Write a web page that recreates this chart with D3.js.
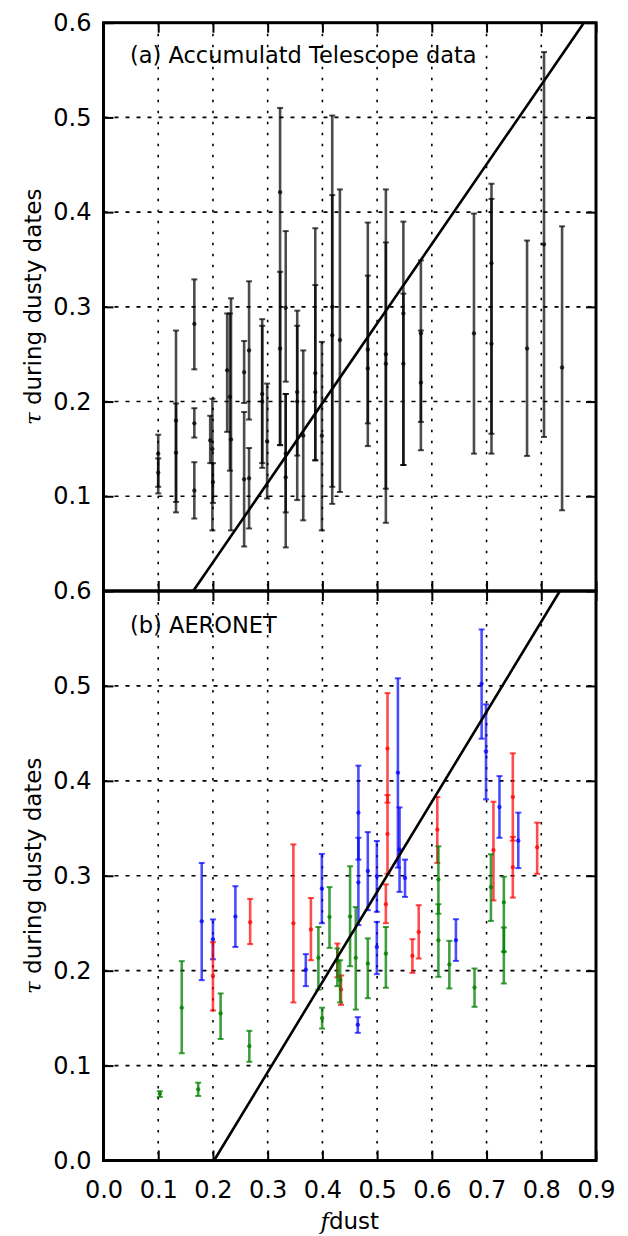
<!DOCTYPE html>
<html>
<head>
<meta charset="utf-8">
<script src="https://cdn.jsdelivr.net/npm/d3@7"></script>
<style>
  body { margin: 0; background: #fff; }
  svg { display: block; font-family: "DejaVu Sans", sans-serif; }
  .frame { fill: none; stroke: #000; stroke-width: 3; }
  .tick line { stroke: #000; stroke-width: 2; }
  .tick text { font-size: 24px; fill: #000; font-family: "DejaVu Sans", sans-serif; }
  .domain { display: none; }
  .grid-h line { stroke: #000; stroke-width: 1.6; stroke-dasharray: 4,7; }
  .grid-v line { stroke: #000; stroke-width: 1.6; stroke-dasharray: 2.5,8.5; }
</style>
</head>
<body>
<svg id="chart" width="628" height="1236"></svg>
<script>
// x ticks (fdust) and y ticks (tau)
const xTicks = [0.0, 0.1, 0.2, 0.3, 0.4, 0.5, 0.6, 0.7, 0.8, 0.9];
const yTicksA = [0.1, 0.2, 0.3, 0.4, 0.5, 0.6];
const yTicksB = [0.0, 0.1, 0.2, 0.3, 0.4, 0.5, 0.6];

// error bars as [fdust, tau, low, high]
const telescope = [
  [0.100, 0.145, 0.103, 0.165], [0.100, 0.125, 0.110, 0.140],
  [0.1325, 0.180, 0.083, 0.275], [0.1325, 0.146, 0.094, 0.198],
  [0.166, 0.282, 0.234, 0.329], [0.166, 0.177, 0.162, 0.193], [0.166, 0.106, 0.0765, 0.136],
  [0.195, 0.159, 0.135, 0.185], [0.199, 0.150, 0.064, 0.203], [0.200, 0.115, 0.093, 0.135],
  [0.226, 0.233, 0.168, 0.293], [0.231, 0.205, 0.127, 0.293], [0.233, 0.160, 0.064, 0.309],
  [0.257, 0.231, 0.1985, 0.264], [0.257, 0.118, 0.047, 0.189],
  [0.266, 0.254, 0.181, 0.327], [0.266, 0.119, 0.066, 0.151],
  [0.290, 0.208, 0.130, 0.287], [0.290, 0.200, 0.135, 0.280],
  [0.299, 0.158, 0.0976, 0.219],
  [0.3227, 0.421, 0.154, 0.510], [0.3227, 0.256, 0.154, 0.337],
  [0.333, 0.299, 0.221, 0.380], [0.333, 0.120, 0.046, 0.208], [0.333, 0.145, 0.083, 0.208],
  [0.354, 0.200, 0.096, 0.296], [0.354, 0.210, 0.143, 0.280],
  [0.365, 0.164, 0.0746, 0.254],
  [0.387, 0.210, 0.138, 0.383], [0.387, 0.230, 0.138, 0.323],
  [0.399, 0.164, 0.064, 0.263],
  [0.418, 0.300, 0.092, 0.502], [0.418, 0.270, 0.110, 0.418],
  [0.432, 0.265, 0.1045, 0.424],
  [0.483, 0.235, 0.153, 0.389], [0.483, 0.255, 0.177, 0.333],
  [0.516, 0.250, 0.072, 0.424], [0.516, 0.240, 0.108, 0.368],
  [0.548, 0.293, 0.133, 0.390], [0.548, 0.240, 0.133, 0.314],
  [0.580, 0.272, 0.1486, 0.349], [0.580, 0.220, 0.1785, 0.275],
  [0.677, 0.272, 0.145, 0.3985],
  [0.709, 0.346, 0.145, 0.430], [0.709, 0.261, 0.166, 0.414],
  [0.774, 0.256, 0.1426, 0.370],
  [0.805, 0.366, 0.1626, 0.569],
  [0.838, 0.236, 0.0852, 0.385]
];

const aeronetBlue = [
  [0.1795, 0.252, 0.190, 0.3135], [0.200, 0.233, 0.212, 0.254], [0.241, 0.257, 0.225, 0.289],
  [0.3697, 0.201, 0.1837, 0.2174], [0.399, 0.2865, 0.250, 0.323], [0.4647, 0.143, 0.1345, 0.151],
  [0.4658, 0.3665, 0.317, 0.416], [0.4658, 0.293, 0.248, 0.340], [0.483, 0.305, 0.2637, 0.346],
  [0.4995, 0.2995, 0.262, 0.3366], [0.4995, 0.225, 0.1963, 0.2514], [0.538, 0.4086, 0.3086, 0.508],
  [0.541, 0.3276, 0.283, 0.372], [0.551, 0.2977, 0.2777, 0.317], [0.644, 0.2321, 0.2103, 0.2542],
  [0.691, 0.5023, 0.4444, 0.5595], [0.699, 0.431, 0.3805, 0.4805], [0.7236, 0.3724, 0.340, 0.405],
  [0.758, 0.337, 0.308, 0.3665]
];

const aeronetRed = [
  [0.200, 0.1945, 0.158, 0.230], [0.268, 0.251, 0.228, 0.2756], [0.347, 0.250, 0.1665, 0.333],
  [0.379, 0.2434, 0.211, 0.2766], [0.4274, 0.210, 0.193, 0.2286], [0.434, 0.180, 0.164, 0.195],
  [0.519, 0.434, 0.377, 0.4924], [0.519, 0.344, 0.302, 0.385], [0.516, 0.270, 0.250, 0.291],
  [0.5645, 0.2156, 0.1977, 0.2332], [0.576, 0.2408, 0.2128, 0.269], [0.610, 0.3486, 0.3135, 0.383],
  [0.7126, 0.327, 0.274, 0.378], [0.748, 0.383, 0.337, 0.429], [0.748, 0.309, 0.277, 0.341],
  [0.7925, 0.330, 0.302, 0.356]
];

const aeronetGreen = [
  [0.103, 0.0703, 0.067, 0.073], [0.143, 0.161, 0.113, 0.210], [0.173, 0.075, 0.068, 0.082],
  [0.214, 0.155, 0.128, 0.176], [0.2665, 0.1205, 0.104, 0.1366], [0.3927, 0.2135, 0.180, 0.246],
  [0.3995, 0.150, 0.139, 0.161], [0.413, 0.2566, 0.224, 0.288], [0.4274, 0.211, 0.1837, 0.2234],
  [0.4324, 0.190, 0.1665, 0.211], [0.4506, 0.257, 0.2047, 0.310], [0.461, 0.2135, 0.159, 0.267],
  [0.483, 0.2075, 0.171, 0.234], [0.516, 0.218, 0.182, 0.246], [0.612, 0.296, 0.260, 0.331],
  [0.612, 0.232, 0.1935, 0.270], [0.632, 0.2065, 0.1813, 0.2314], [0.678, 0.1823, 0.1619, 0.2023],
  [0.708, 0.288, 0.2524, 0.3226], [0.7316, 0.272, 0.220, 0.299], [0.7316, 0.220, 0.1865, 0.2455]
];

// straight reference lines, end points
const lineA = [[0.164, 0.0], [0.878, 0.6]];
const lineB = [[0.202, 0.0], [0.834, 0.6]];

const svg = d3.select("#chart");
const left = 103.5, right = 596;

const x = d3.scaleLinear().domain([0, 0.9]).range([left, right]);

function panel(top, bottom, yTicks, showX) {
  const y = d3.scaleLinear().domain([0, 0.6]).range([bottom, top]);
  const g = svg.append("g");

  // gridlines
  g.append("g").attr("class", "grid-v")
    .selectAll("line").data(xTicks.slice(1, -1)).join("line")
    .attr("x1", d => x(d)).attr("x2", d => x(d))
    .attr("y1", top).attr("y2", bottom);
  g.append("g").attr("class", "grid-h")
    .selectAll("line").data([0.1, 0.2, 0.3, 0.4, 0.5]).join("line")
    .attr("x1", left).attr("x2", right)
    .attr("y1", d => y(d)).attr("y2", d => y(d));

  // ticks on all four sides, pointing in
  g.append("g").attr("transform", "translate(0," + bottom + ")")
    .call(d3.axisBottom(x).tickValues(xTicks).tickSize(-10).tickPadding(20)
      .tickFormat(showX ? d3.format(".1f") : ""));
  g.append("g").attr("transform", "translate(0," + top + ")")
    .call(d3.axisTop(x).tickValues(xTicks).tickSize(-10).tickFormat(""));
  g.append("g").attr("transform", "translate(" + left + ",0)")
    .call(d3.axisLeft(y).tickValues(yTicks).tickSize(-10).tickPadding(12)
      .tickFormat(d3.format(".1f")));
  g.append("g").attr("transform", "translate(" + right + ",0)")
    .call(d3.axisRight(y).tickValues(yTicks).tickSize(-10).tickFormat(""));

  return { g, y };
}

function errorBars(p, data, color, opacity) {
  const g = p.g.append("g").attr("stroke", color).attr("fill", color);
  const bar = g.selectAll("g.bar").data(data).join("g").attr("class", "bar")
    .attr("stroke-opacity", opacity).attr("fill-opacity", opacity);
  bar.append("line")
    .attr("x1", d => x(d[0])).attr("x2", d => x(d[0]))
    .attr("y1", d => p.y(d[2])).attr("y2", d => p.y(d[3]))
    .attr("stroke-width", 2.6);
  [2, 3].forEach(k => {
    bar.append("line")
      .attr("x1", d => x(d[0]) - 3).attr("x2", d => x(d[0]) + 3)
      .attr("y1", d => p.y(d[k])).attr("y2", d => p.y(d[k]))
      .attr("stroke-width", 2);
  });
  bar.append("circle")
    .attr("cx", d => x(d[0])).attr("cy", d => p.y(d[1]))
    .attr("r", 1.8).attr("stroke-width", 0.8);
}

function fitLine(p, pts) {
  p.g.append("path")
    .attr("d", d3.line().x(d => x(d[0])).y(d => p.y(d[1]))(pts))
    .attr("fill", "none").attr("stroke", "#000").attr("stroke-width", 2.6);
}

const pa = panel(22.7, 591, yTicksA, false);
errorBars(pa, telescope, "#000", 0.7);
fitLine(pa, lineA);

const pb = panel(591, 1160.5, yTicksB, true);
errorBars(pb, aeronetBlue, "#0000ff", 0.7);
errorBars(pb, aeronetRed, "#ff0000", 0.7);
errorBars(pb, aeronetGreen, "#008000", 0.75);
fitLine(pb, lineB);

// frames
[[22.7, 591], [591, 1160.5]].forEach(([t, b]) => {
  svg.append("rect").attr("class", "frame")
    .attr("x", left).attr("y", t).attr("width", right - left).attr("height", b - t);
});

// panel titles
svg.append("text").attr("x", 130).attr("y", 63).attr("font-size", 22.5)
  .text("(a) Accumulatd Telescope data");
svg.append("text").attr("x", 130).attr("y", 633).attr("font-size", 22.5)
  .text("(b) AERONET");

// y labels
[(22.7 + 591) / 2, (591 + 1160.5) / 2].forEach(cy => {
  const t = svg.append("text")
    .attr("transform", "translate(41," + cy + ") rotate(-90)")
    .attr("text-anchor", "middle").attr("font-size", 23);
  t.append("tspan").attr("font-family", "DejaVu Serif").attr("font-style", "italic").text("τ");
  t.append("tspan").text(" during dusty dates");
});

// x label
const xl = svg.append("text").attr("x", (left + right) / 2).attr("y", 1229)
  .attr("text-anchor", "middle").attr("font-size", 23);
xl.append("tspan").attr("font-family", "DejaVu Serif").attr("font-style", "italic").text("f");
xl.append("tspan").text("dust");
</script>
</body>
</html>
